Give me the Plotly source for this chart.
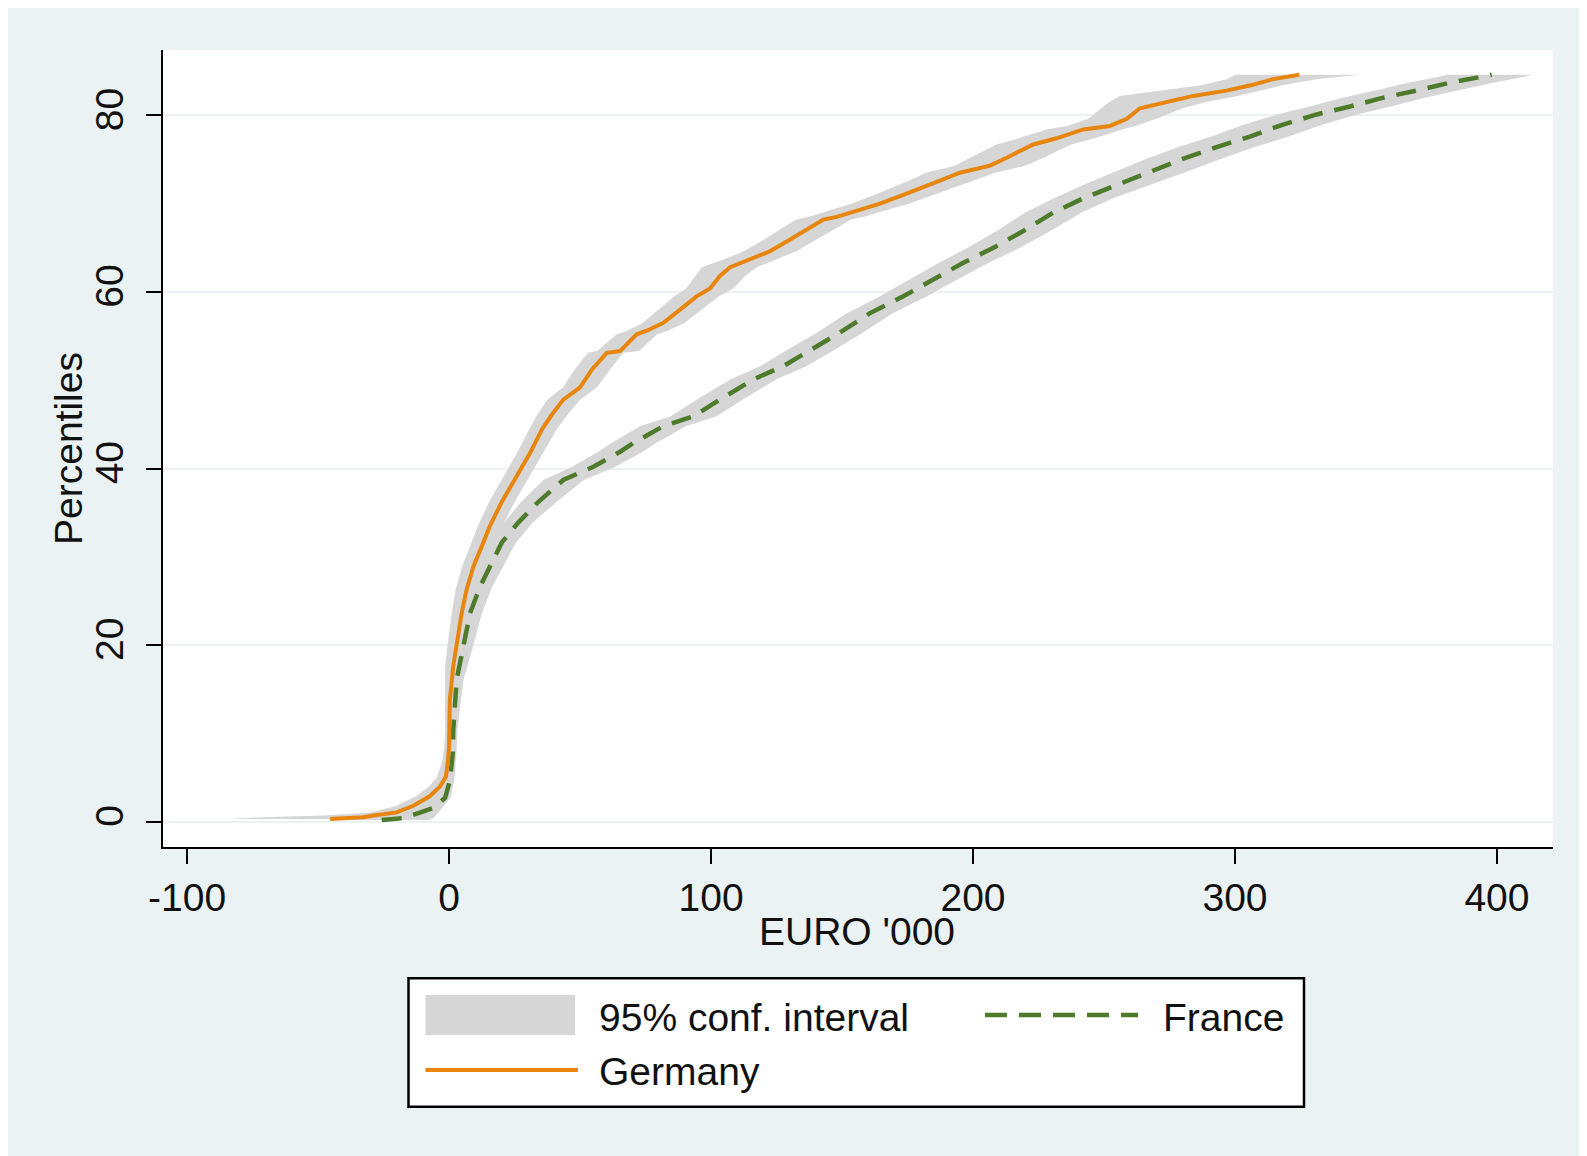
import plotly.graph_objects as go

# ---------------- data ----------------
ger_pct = [0.3, 0.5, 0.7, 1.05, 1.8, 2.9, 4.0, 5.1, 7.0, 8.5, 10.5, 13.8, 17.6, 20.2, 23.6, 26.3,
           28.9, 31.2, 33.5, 36.2, 39.2, 41.8, 44.4, 46.0, 47.8, 49.2, 51.2, 53.1, 53.3, 55.2,
           55.6, 56.5, 58.0, 59.5, 60.4, 61.8, 62.8, 63.8, 64.6, 65.7, 66.8, 68.2, 68.5, 69.1,
           70.0, 71.0, 71.7, 72.6, 73.5, 74.3, 75.2, 76.7, 77.4, 78.4, 78.8, 79.6, 80.8, 81.5,
           82.2, 82.8, 83.4, 84.1, 84.6]
ger_est = [-45.4, -32.7, -28.9, -20.0, -13.6, -7.3, -3.4, -1.2, -0.4, 0.0, 0.1, 0.3, 1.6, 3.0, 4.8, 6.7,
           9.3, 12.5, 15.6, 20.1, 26.0, 31.0, 35.4, 39.0, 43.6, 50.0, 54.5, 60.2, 65.3, 71.6,
           75.5, 81.8, 88.2, 94.5, 99.6, 103.4, 107.3, 116.2, 122.5, 128.9, 135.2, 142.9, 148.0, 154.3,
           164.5, 173.4, 179.8, 187.4, 195.0, 206.5, 212.9, 223.0, 231.9, 242.1, 252.3, 258.7, 263.7, 273.9,
           284.0, 296.8, 306.0, 314.6, 324.5]
ger_lo = [-84.0, -71.0, -48.0, -30.0, -20.0, -12.5, -7.5, -4.5, -2.5, -1.8, -1.5, -1.5, -1.5, -0.5, 1.0, 2.5,
          5.0, 8.0, 11.0, 15.3, 21.0, 26.0, 30.5, 33.5, 37.5, 43.5, 48.0, 53.0, 56.5, 64.0,
          68.0, 74.0, 80.0, 86.0, 90.5, 94.0, 96.5, 106.0, 112.5, 119.0, 125.0, 132.5, 137.5, 144.0,
          153.5, 162.5, 168.5, 175.5, 182.0, 193.0, 199.0, 209.0, 217.5, 228.0, 236.0, 244.0, 249.0, 252.0,
          256.0, 272.0, 287.0, 297.0, 300.0]
ger_hi = [-30.0, -26.0, -22.0, -15.0, -9.5, -4.5, -1.5, 0.0, 1.0, 1.3, 1.5, 2.2, 4.5, 7.0, 9.0, 11.0,
          13.8, 17.0, 20.3, 25.0, 31.0, 36.0, 41.0, 45.0, 50.0, 56.5, 61.5, 66.5, 72.5, 79.5,
          83.5, 90.0, 96.5, 103.0, 108.5, 113.0, 117.5, 126.0, 132.5, 139.0, 145.5, 153.5, 158.5, 165.0,
          175.5, 184.5, 191.5, 200.0, 208.5, 220.0, 227.0, 237.5, 246.5, 257.0, 262.0, 270.0, 280.0, 289.0,
          301.0, 310.0, 318.0, 331.0, 348.0]

fra_pct = [0.2, 0.4, 0.9, 1.55, 2.7, 4.75, 7.8, 10.4, 16.1, 20.2, 23.6, 26.6, 28.9, 31.6, 33.9,
           36.2, 38.7, 40.2, 41.9, 42.9, 44.8, 45.9, 47.8, 50.1, 51.6, 53.6, 55.4, 57.6, 59.5,
           61.4, 63.3, 65.0, 66.9, 69.0, 70.6, 72.1, 73.6, 75.0, 76.4, 77.6, 78.9, 80.1, 81.0,
           82.0, 82.8, 83.7, 84.4, 84.6]
fra_est = [-25.7, -17.4, -12.3, -6.0, -1.5, 0.4, 1.4, 1.6, 2.9, 5.5, 8.0, 11.8, 15.6, 20.1, 26.5,
           34.0, 43.6, 55.1, 65.3, 70.4, 81.8, 93.2, 103.4, 116.2, 127.6, 139.0, 149.2, 160.7, 173.4,
           184.8, 196.3, 207.8, 219.2, 230.7, 242.1, 254.8, 267.6, 279.5, 293.0, 305.7, 317.8, 331.2, 343.9,
           356.6, 369.3, 382.0, 394.8, 398.0]
fra_lo = [-45.0, -35.0, -22.0, -13.0, -6.0, -2.0, -0.5, 0.0, 0.8, 2.0, 4.0, 7.5, 11.0, 15.0, 21.0,
          27.5, 36.0, 47.0, 57.0, 62.0, 73.0, 84.5, 94.5, 107.5, 119.0, 130.0, 140.5, 152.0, 164.5,
          175.5, 187.0, 198.0, 209.0, 220.0, 231.0, 242.0, 254.0, 265.5, 278.5, 291.0, 303.0, 316.0, 328.5,
          341.0, 353.5, 366.0, 378.5, 381.0]
fra_hi = [-8.0, -6.0, -4.5, -2.5, 0.5, 2.0, 2.8, 3.2, 5.5, 9.5, 12.5, 16.5, 20.5, 25.5, 32.0,
          41.0, 51.5, 63.5, 74.0, 79.0, 90.5, 102.0, 112.0, 125.0, 136.5, 148.0, 158.0, 169.5, 182.5,
          194.0, 206.0, 218.0, 229.5, 241.5, 253.5, 267.5, 281.5, 294.0, 307.5, 320.5, 333.0, 346.5, 359.5,
          372.5, 385.0, 398.5, 411.0, 413.0]

x_ticks = [-100, 0, 100, 200, 300, 400]
x_ticktext = ["-100", "0", "100", "200", "300", "400"]
y_ticks = [0, 20, 40, 60, 80]
y_ticktext = ["0", "20", "40", "60", "80"]
x_title = "EURO '000"
y_title = "Percentiles"
legend_labels = ["95% conf. interval", "France", "Germany"]

# ---------------- styles / layout ----------------
OFF = 8                      # page margin of the browser body
W, H = 1587 - OFF, 1156 - OFF
# plot area in page pixels
PL, PR, PT, PB = 163, 1553, 50, 847
L, R, T, B = PL - OFF, PR - OFF, PT - OFF, PB - OFF
BG = "#EAF2F3"
CI = "#D6D6D6"
ORANGE = "#E8850C"
GREEN = "#4D7A2B"
FONT = "Liberation Sans, Arial, sans-serif"
TXT = "#111111"
FS = 39


def px(x):
    """page pixel x -> paper coordinate"""
    return (x - OFF - L) / (R - L)


def py(y):
    """page pixel y -> paper coordinate"""
    return (B - (y - OFF)) / (B - T)


fig = go.Figure()

for lo, hi, pct in [(ger_lo, ger_hi, ger_pct), (fra_lo, fra_hi, fra_pct)]:
    fig.add_trace(go.Scatter(
        x=lo + hi[::-1], y=pct + pct[::-1], mode="lines", fill="toself",
        fillcolor=CI, line=dict(width=0, color=CI), hoverinfo="skip",
        showlegend=False, name=legend_labels[0]))

fig.add_trace(go.Scatter(x=fra_est, y=fra_pct, mode="lines", name=legend_labels[1],
                         line=dict(color=GREEN, width=4.5, dash="20px,12px"), showlegend=False))
fig.add_trace(go.Scatter(x=ger_est, y=ger_pct, mode="lines", name=legend_labels[2],
                         line=dict(color=ORANGE, width=4), showlegend=False))

axis_common = dict(showline=True, linecolor="black", linewidth=2, ticks="outside",
                   ticklen=15, tickwidth=2, tickcolor="black", zeroline=False,
                   tickfont=dict(family=FONT, size=FS, color=TXT))

fig.update_xaxes(range=[-109.2, 421.4], tickvals=x_ticks, ticktext=x_ticktext,
                 showgrid=False, **axis_common)
fig.update_yaxes(range=[-2.87, 87.4], tickvals=y_ticks, ticktext=y_ticktext,
                 showgrid=True, gridcolor=BG, gridwidth=2, tickangle=-90,
                 ticklabelstandoff=7, **axis_common)

shapes = [
    # legend box
    dict(type="rect", xref="paper", yref="paper", x0=px(408.5), x1=px(1304), y0=py(1106.7), y1=py(978.3),
         fillcolor="white", line=dict(color="black", width=2.5)),
    dict(type="rect", xref="paper", yref="paper", x0=px(425.5), x1=px(575), y0=py(1035), y1=py(995),
         fillcolor=CI, line=dict(width=0)),
    dict(type="line", xref="paper", yref="paper", x0=px(985), x1=px(1138), y0=py(1015), y1=py(1015),
         line=dict(color=GREEN, width=4.5, dash="22px,12px")),
    dict(type="line", xref="paper", yref="paper", x0=px(425.5), x1=px(578), y0=py(1070), y1=py(1070),
         line=dict(color=ORANGE, width=4)),
]

annotations = [
    dict(text=legend_labels[0], x=px(597), y=py(1017), xref="paper", yref="paper",
         xanchor="left", yanchor="middle", showarrow=False, font=dict(family=FONT, size=FS, color=TXT)),
    dict(text=legend_labels[1], x=px(1161), y=py(1017), xref="paper", yref="paper",
         xanchor="left", yanchor="middle", showarrow=False, font=dict(family=FONT, size=FS, color=TXT)),
    dict(text=legend_labels[2], x=px(597), y=py(1071), xref="paper", yref="paper",
         xanchor="left", yanchor="middle", showarrow=False, font=dict(family=FONT, size=FS, color=TXT)),
    dict(text=x_title, x=px(857), y=py(931), xref="paper", yref="paper",
         xanchor="center", yanchor="middle", showarrow=False, font=dict(family=FONT, size=FS, color=TXT)),
    dict(text=y_title, x=px(68), y=py(448), xref="paper", yref="paper", textangle=-90,
         xanchor="center", yanchor="middle", showarrow=False, font=dict(family=FONT, size=FS, color=TXT)),
]

fig.update_layout(
    width=W, height=H,
    margin=dict(l=L, r=W - R, t=T, b=H - B, pad=0),
    paper_bgcolor=BG, plot_bgcolor="white",
    showlegend=False, shapes=shapes, annotations=annotations,
    font=dict(family=FONT, size=FS, color=TXT),
)

fig.write_html("out.html")
